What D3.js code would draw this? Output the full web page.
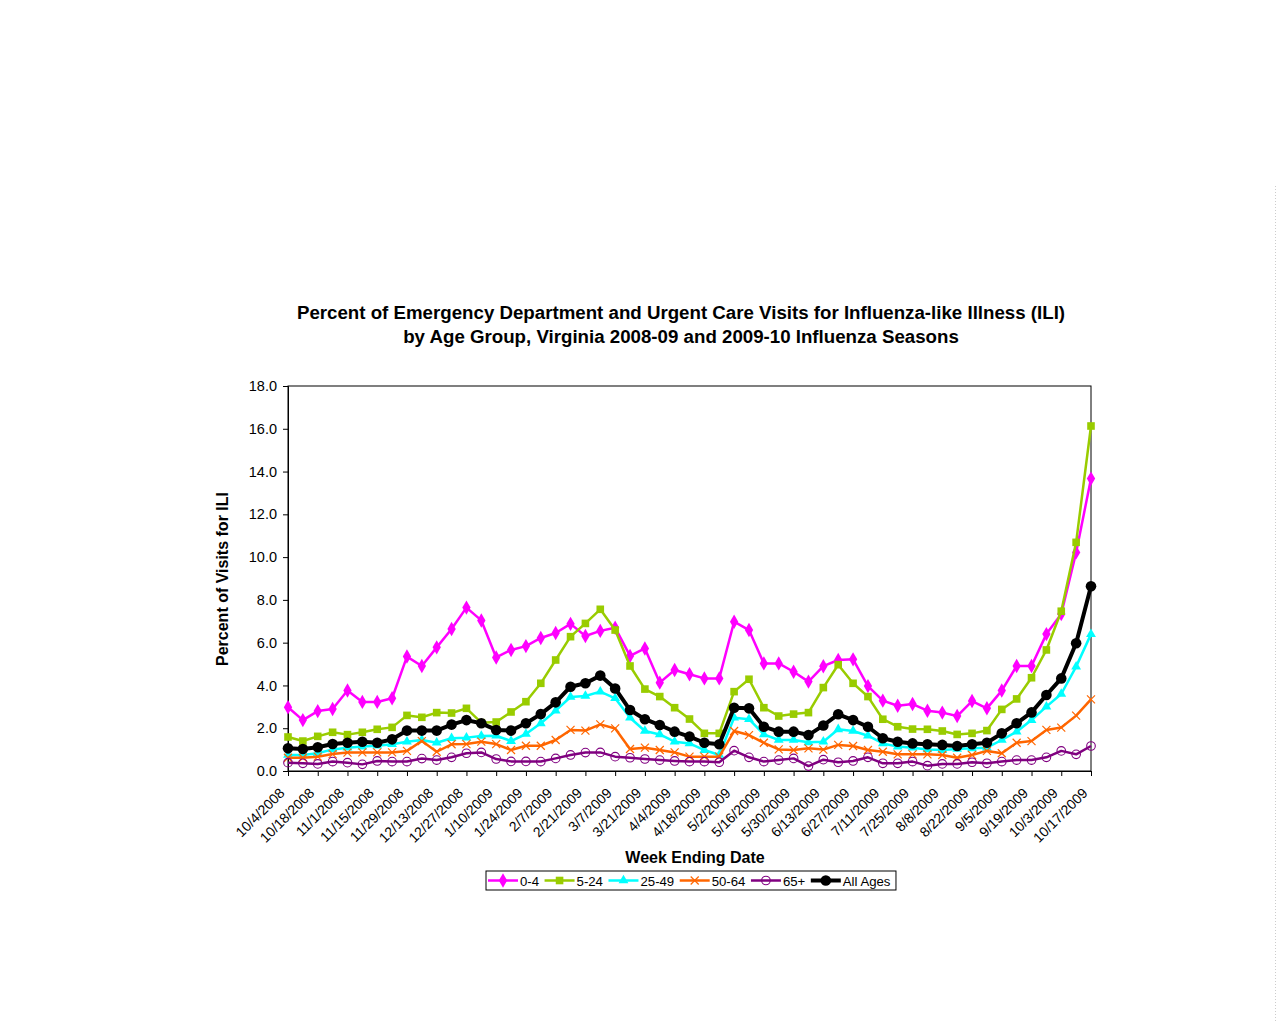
<!DOCTYPE html>
<html>
<head>
<meta charset="UTF-8">
<title>ILI by Age Group, Virginia</title>
<script src="https://cdn.jsdelivr.net/npm/d3@7"></script>
<style>
  body { margin: 0; background: #fff; }
  svg { display: block; font-family: "Liberation Sans", Arial, sans-serif; }
</style>
</head>
<body>
<svg width="1280" height="1024"></svg>
<script>
// week ending dates (categories)
const weeks = [
  "10/4/2008","10/11/2008","10/18/2008","10/25/2008","11/1/2008","11/8/2008","11/15/2008","11/22/2008","11/29/2008",
  "12/6/2008","12/13/2008","12/20/2008","12/27/2008","1/3/2009","1/10/2009","1/17/2009","1/24/2009","1/31/2009",
  "2/7/2009","2/14/2009","2/21/2009","2/28/2009","3/7/2009","3/14/2009","3/21/2009","3/28/2009","4/4/2009",
  "4/11/2009","4/18/2009","4/25/2009","5/2/2009","5/9/2009","5/16/2009","5/23/2009","5/30/2009","6/6/2009",
  "6/13/2009","6/20/2009","6/27/2009","7/4/2009","7/11/2009","7/18/2009","7/25/2009","8/1/2009","8/8/2009",
  "8/15/2009","8/22/2009","8/29/2009","9/5/2009","9/12/2009","9/19/2009","9/26/2009","10/3/2009","10/10/2009","10/17/2009"
];

const age0_4 = [2.98,2.38,2.80,2.90,3.76,3.23,3.23,3.40,5.35,4.91, 5.78,6.64,7.64,7.04,5.31,5.66,5.84,6.22,6.45,6.88,
  6.31,6.55,6.70,5.38,5.73,4.13,4.72,4.52,4.33,4.33, 6.98,6.59,5.03,5.03,4.64,4.18,4.90,5.19,5.22,3.97,
  3.29,3.05,3.13,2.82,2.73,2.57,3.27,2.93,3.76,4.91, 4.91,6.40,7.34,10.22,13.67];
const age5_24 = [1.59,1.40,1.62,1.81,1.70,1.81,1.95,2.04,2.60,2.51, 2.73,2.71,2.93,2.26,2.29,2.76,3.24,4.10,5.19,6.28,
  6.90,7.56,6.59,4.91,3.83,3.48,2.96,2.43,1.76,1.76, 3.71,4.29,2.96,2.57,2.66,2.73,3.90,4.97,4.10,3.48,
  2.42,2.07,1.96,1.95,1.87,1.71,1.76,1.89,2.88,3.37, 4.36,5.66,7.47,10.69,16.13];
const age25_49 = [0.75,0.75,0.83,1.01,1.09,1.14,1.18,1.25,1.37,1.45, 1.32,1.53,1.56,1.64,1.65,1.40,1.73,2.23,2.82,3.46,
  3.51,3.71,3.40,2.49,1.87,1.71,1.37,1.29,0.98,0.75, 2.49,2.42,1.71,1.45,1.45,1.34,1.37,1.95,1.87,1.65,
  1.29,1.14,1.09,1.01,0.98,1.03,1.06,1.09,1.45,1.84, 2.38,3.01,3.60,4.88,6.40];
const age50_64 = [0.62,0.62,0.67,0.79,0.86,0.87,0.87,0.87,0.94,1.40, 0.90,1.25,1.26,1.37,1.26,0.98,1.18,1.18,1.45,1.92,
  1.89,2.18,1.99,1.03,1.09,0.98,0.87,0.67,0.67,0.67, 1.87,1.68,1.32,1.01,0.98,1.06,1.00,1.22,1.17,0.98,
  0.90,0.78,0.78,0.78,0.75,0.62,0.75,0.94,0.83,1.32, 1.40,1.92,2.03,2.59,3.35];
const age65 = [0.39,0.36,0.33,0.44,0.39,0.31,0.47,0.44,0.44,0.58, 0.51,0.64,0.83,0.87,0.56,0.45,0.45,0.44,0.59,0.75,
  0.86,0.87,0.67,0.62,0.56,0.51,0.47,0.44,0.44,0.41, 0.95,0.64,0.44,0.51,0.59,0.23,0.53,0.41,0.47,0.64,
  0.36,0.36,0.44,0.25,0.33,0.33,0.41,0.36,0.44,0.51, 0.51,0.64,0.94,0.78,1.17];
const allAges = [1.06,1.03,1.11,1.26,1.32,1.37,1.32,1.48,1.89,1.89, 1.89,2.17,2.38,2.23,1.92,1.89,2.23,2.66,3.21,3.94,
  4.10,4.46,3.86,2.85,2.42,2.15,1.84,1.61,1.32,1.25, 2.96,2.93,2.07,1.84,1.84,1.68,2.13,2.65,2.38,2.07,
  1.53,1.37,1.29,1.25,1.22,1.17,1.25,1.32,1.76,2.23, 2.74,3.55,4.33,5.97,8.64];

const seriesNames = ["0-4", "5-24", "25-49", "50-64", "65+", "All Ages"];
const yTicks = [0, 2, 4, 6, 8, 10, 12, 14, 16, 18];

const series = [
  {name: seriesNames[0], values: age0_4,   color: "#ff00ff", width: 2.5, marker: "diamond"},
  {name: seriesNames[1], values: age5_24,  color: "#99cc00", width: 2.5, marker: "square"},
  {name: seriesNames[2], values: age25_49, color: "#00ffff", width: 2.5, marker: "triangle"},
  {name: seriesNames[3], values: age50_64, color: "#ff6600", width: 2.5, marker: "x"},
  {name: seriesNames[4], values: age65,    color: "#800080", width: 2.5, marker: "circleOpen"},
  {name: seriesNames[5], values: allAges,  color: "#000000", width: 4,   marker: "circle"}
];

const svg = d3.select("svg");
svg.append("rect").attr("width", 1280).attr("height", 1024).attr("fill", "#fff");

const plot = {left: 288, right: 1091, top: 386, bottom: 771};

const x = d3.scalePoint().domain(weeks).range([plot.left, plot.right]);
const y = d3.scaleLinear().domain([0, 18]).range([plot.bottom, plot.top]);

// plot frame
svg.append("rect")
  .attr("x", plot.left).attr("y", plot.top)
  .attr("width", plot.right - plot.left).attr("height", plot.bottom - plot.top)
  .attr("fill", "none").attr("stroke", "#000").attr("stroke-width", 1);

// y axis
const yAxis = svg.append("g")
  .attr("transform", `translate(${plot.left},0)`)
  .call(d3.axisLeft(y).tickValues(yTicks).tickFormat(d3.format(".1f")).tickSize(5).tickPadding(6));
yAxis.select(".domain").attr("stroke", "#000");
yAxis.selectAll("text").attr("font-size", 14.5).attr("fill", "#000")
  .style("font-family", "Liberation Sans, Arial, sans-serif");

// x axis, tick every 2 weeks
const xTickVals = weeks.filter((d, i) => i % 2 === 0);
const xAxis = svg.append("g")
  .attr("transform", `translate(0,${plot.bottom})`)
  .call(d3.axisBottom(x).tickValues(xTickVals).tickSize(5).tickSizeOuter(0));
xAxis.select(".domain").attr("stroke", "#000");
xAxis.selectAll("text")
  .attr("font-size", 14).attr("fill", "#000")
  .style("font-family", "Liberation Sans, Arial, sans-serif")
  .attr("text-anchor", "end")
  .attr("y", 0).attr("dy", 0)
  .attr("transform", "translate(-3,23) rotate(-45)");

// marker drawing
function drawMarker(g, type, color, px, py) {
  if (type === "diamond") {
    g.append("path").attr("d", d3.symbol(d3.symbolDiamond, 60)())
      .attr("transform", `translate(${px},${py})`).attr("fill", color);
  } else if (type === "square") {
    g.append("rect").attr("x", px - 3.8).attr("y", py - 3.8).attr("width", 7.6).attr("height", 7.6)
      .attr("fill", color);
  } else if (type === "triangle") {
    g.append("path").attr("d", d3.symbol(d3.symbolTriangle, 42)())
      .attr("transform", `translate(${px},${py})`).attr("fill", color);
  } else if (type === "x") {
    g.append("path").attr("d", `M${px-4},${py-4}L${px+4},${py+4}M${px-4},${py+4}L${px+4},${py-4}`)
      .attr("stroke", color).attr("stroke-width", 1.2).attr("fill", "none");
  } else if (type === "circleOpen") {
    g.append("circle").attr("cx", px).attr("cy", py).attr("r", 4.3)
      .attr("fill", "none").attr("stroke", color).attr("stroke-width", 1.1);
  } else if (type === "circle") {
    g.append("circle").attr("cx", px).attr("cy", py).attr("r", 5.3).attr("fill", color);
  }
}

const line = d3.line().x((d, i) => x(weeks[i])).y(d => y(d));

series.forEach(s => {
  const g = svg.append("g");
  g.append("path").datum(s.values).attr("d", line)
    .attr("fill", "none").attr("stroke", s.color).attr("stroke-width", s.width)
    .attr("stroke-linejoin", "round");
  s.values.forEach((v, i) => drawMarker(g, s.marker, s.color, x(weeks[i]), y(v)));
});

// titles
const title = svg.append("text").attr("x", 681).attr("text-anchor", "middle")
  .attr("font-size", 18.7).attr("font-weight", "bold");
title.append("tspan").attr("x", 681).attr("y", 319).text("Percent of Emergency Department and Urgent Care Visits for Influenza-like Illness (ILI)");
title.append("tspan").attr("x", 681).attr("y", 343).text("by Age Group, Virginia 2008-09 and 2009-10 Influenza Seasons");

svg.append("text").attr("x", 695).attr("y", 863).attr("text-anchor", "middle")
  .attr("font-size", 16).attr("font-weight", "bold").text("Week Ending Date");

svg.append("text").attr("transform", "translate(228,579) rotate(-90)").attr("text-anchor", "middle")
  .attr("font-size", 16).attr("font-weight", "bold").text("Percent of Visits for ILI");

// legend
const legend = svg.append("g");
const legendBox = legend.append("rect").attr("x", 486).attr("y", 871).attr("height", 19)
  .attr("fill", "#fff").attr("stroke", "#000").attr("stroke-width", 1);
let lx = 488;
const ly = 880.5;
series.forEach(s => {
  legend.append("line").attr("x1", lx).attr("x2", lx + 30).attr("y1", ly).attr("y2", ly)
    .attr("stroke", s.color).attr("stroke-width", s.width);
  drawMarker(legend, s.marker, s.color, lx + 15, ly);
  const t = legend.append("text").attr("x", lx + 32).attr("y", ly + 5)
    .attr("font-size", 13.2).text(s.name);
  lx += 32 + t.node().getComputedTextLength() + 5.5;
});
legendBox.attr("width", lx - 486);

// faint scrollbar strip at right edge
svg.append("line").attr("x1", 1275.5).attr("x2", 1275.5).attr("y1", 186).attr("y2", 1022)
  .attr("stroke", "#ccc").attr("stroke-width", 1).attr("stroke-dasharray", "1,2");
</script>
</body>
</html>
